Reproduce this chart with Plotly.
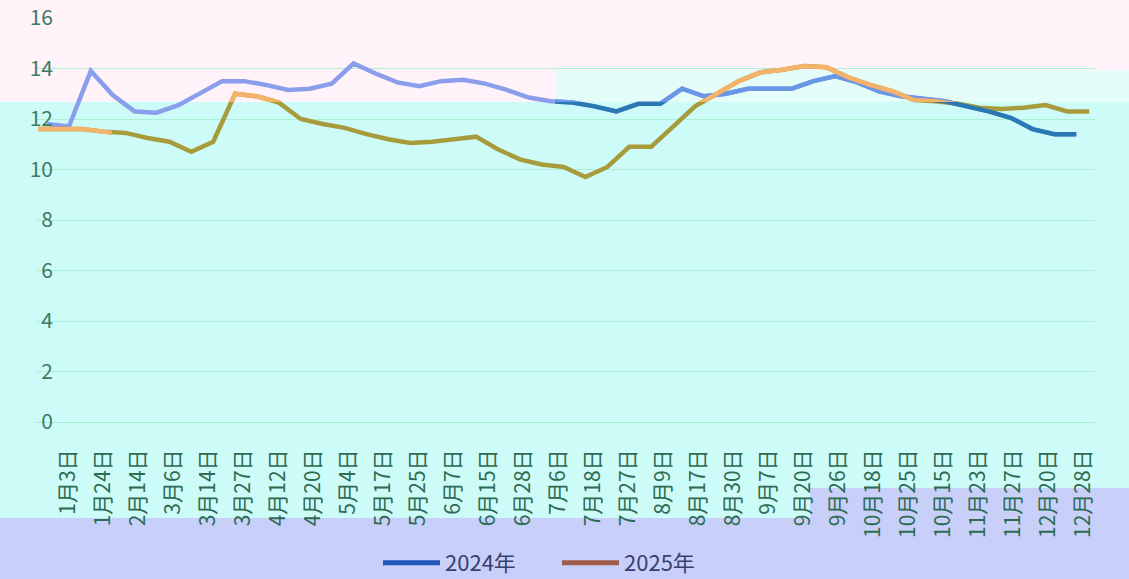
import plotly.graph_objects as go

# ---------------- data ----------------
date_labels = ["1月3日", "1月24日", "2月14日", "3月6日", "3月14日", "3月27日", "4月12日",
               "4月20日", "5月4日", "5月17日", "5月25日", "6月7日", "6月15日", "6月28日",
               "7月6日", "7月18日", "7月27日", "8月9日", "8月17日", "8月30日", "9月7日",
               "9月20日", "9月26日", "10月18日", "10月25日", "10月15日", "11月23日",
               "11月27日", "12月20日", "12月28日", "12月31日"]

values_2024 = [11.8, 11.7, 13.9, 12.95, 12.3, 12.25, 12.55, 13.0, 13.5, 13.5,
               13.35, 13.15, 13.2, 13.4, 14.2, 13.8, 13.45, 13.3, 13.5, 13.55,
               13.4, 13.15, 12.85, 12.7, 12.65, 12.5, 12.3, 12.6, 12.6, 13.2,
               12.9, 13.0, 13.2, 13.2, 13.2, 13.5, 13.7, 13.45, 13.1, 12.9,
               12.8, 12.7, 12.5, 12.3, 12.05, 11.6, 11.4, 11.4]

values_2025 = [11.6, 11.6, 11.6, 11.5, 11.45, 11.25, 11.1, 10.7, 11.1, 13.0,
               12.9, 12.65, 12.0, 11.8, 11.65, 11.4, 11.2, 11.05, 11.1, 11.2,
               11.3, 10.8, 10.4, 10.2, 10.1, 9.7, 10.1, 10.9, 10.9, 11.7,
               12.5, 13.0, 13.5, 13.85, 13.95, 14.1, 14.05, 13.65, 13.35, 13.1,
               12.75, 12.7, 12.6, 12.45, 12.4, 12.45, 12.55, 12.3, 12.3]

series_names = ["2024年", "2025年"]
legend_colors = ["#2058b8", "#a05c4a"]

# ---------------- layout geometry ----------------
W, H = 1129, 579
L, R, T, B = 36, 1095, 18, 422
pw, ph = R - L, B - T
Y_MAX = 16.0
ypx = ph / Y_MAX          # pixels per unit
d_sp = 21.9               # pixels per data step
off = {"2024": 47, "2025": 38}   # pixel of the first point of each series
LW = 4.5


def px_x(p):
    return (p - L) / pw


def px_y(p):
    return (B - p) / ph


fig = go.Figure()
layout_axes = {}
axis_n = [1]


def new_ax():
    axis_n[0] += 1
    return axis_n[0]


# base lines
x24 = new_ax()   # 2
x25 = new_ax()   # 3
layout_axes["xaxis%d" % x24] = dict(range=[(L - off["2024"]) / d_sp, (R - off["2024"]) / d_sp],
                                    overlaying="x", anchor="y", visible=False)
layout_axes["xaxis%d" % x25] = dict(range=[(L - off["2025"]) / d_sp, (R - off["2025"]) / d_sp],
                                    overlaying="x", anchor="y", visible=False)
fig.add_trace(go.Scatter(x=list(range(len(values_2024))), y=values_2024, mode="lines",
                         line=dict(color="#8a9eec", width=LW), name=series_names[0],
                         xaxis="x%d" % x24, yaxis="y", showlegend=False))
fig.add_trace(go.Scatter(x=list(range(len(values_2025))), y=values_2025, mode="lines",
                         line=dict(color="#a89b3c", width=LW), name=series_names[1],
                         xaxis="x%d" % x25, yaxis="y", showlegend=False))

# colour windows (the same series re-drawn, clipped to a sub-area)
y_n = [1]


def window(x0p, x1p, y0p, y1p, key, values, color, name):
    y_n[0] += 1
    yi = y_n[0]
    xi = new_ax()
    layout_axes["yaxis%d" % yi] = dict(
        domain=[px_y(y1p), px_y(y0p)], range=[(B - y1p) / ypx, (B - y0p) / ypx],
        anchor="x%d" % xi, visible=False)
    layout_axes["xaxis%d" % xi] = dict(
        domain=[px_x(x0p), px_x(x1p)],
        range=[(x0p - off[key]) / d_sp, (x1p - off[key]) / d_sp],
        anchor="y%d" % yi, visible=False)
    fig.add_trace(go.Scatter(x=list(range(len(values))), y=values, mode="lines",
                             line=dict(color=color, width=LW), name=name,
                             xaxis="x%d" % xi, yaxis="y%d" % yi, showlegend=False,
                             hoverinfo="skip"))


window(555, R, T, 102, "2024", values_2024, "#6a96e6", series_names[0])
window(555, R, 102, B, "2024", values_2024, "#2a78b2", series_names[0])
window(L, R, T, 102, "2025", values_2025, "#f5b26a", series_names[1])
window(L, 112, 102, 140, "2025", values_2025, "#f5b26a", series_names[1])

for nm, col in zip(series_names, legend_colors):
    fig.add_trace(go.Scatter(x=[None], y=[None], mode="lines", name=nm,
                             line=dict(color=col, width=5), xaxis="x", yaxis="y"))

# background bands (paper coords)
shapes = []


def band(x0, x1, y0, y1, color):
    shapes.append(dict(type="rect", xref="paper", yref="paper",
                       x0=px_x(x0), x1=px_x(x1), y0=px_y(y1), y1=px_y(y0),
                       fillcolor=color, line=dict(width=0), layer="below"))


band(-5, 555, -5, 102, "#fff3f9")
band(555, W + 5, -5, 70, "#fff3f9")
band(555, W + 5, 70, 102, "#e4fdf8")
band(-5, W + 5, 518, H + 5, "#c8d0fa")
band(810, W + 5, 488, 518, "#c8d0fa")

lab_sp = 35.0
lab0 = 68.0

fig.update_layout(
    width=W, height=H, autosize=False,
    margin=dict(l=L, r=W - R, t=T, b=H - B, pad=0, autoexpand=False),
    paper_bgcolor="#cdfcf8", plot_bgcolor="rgba(0,0,0,0)",
    font=dict(family="Noto Sans CJK SC, sans-serif"),
    shapes=shapes,
    xaxis=dict(
        range=[(L - lab0) / lab_sp, (R - lab0) / lab_sp], automargin=False,
        tickmode="array", tickvals=list(range(len(date_labels))), ticktext=date_labels,
        tickangle=-90, ticks="outside", ticklen=18, tickcolor="rgba(0,0,0,0)",
        tickfont=dict(size=21, color="#2d6b52"),
        showgrid=False, zeroline=False, showline=False,
    ),
    yaxis=dict(
        range=[0, Y_MAX], dtick=2, tick0=0, anchor="free", position=px_x(53),
        automargin=False,
        tickfont=dict(size=21, color="#3d7a62"), ticks="",
        showgrid=True, gridcolor="#aef0d6", gridwidth=1,
        zeroline=True, zerolinecolor="#a8ecd0", zerolinewidth=1, showline=False,
    ),
    legend=dict(orientation="h", x=px_x(378), xanchor="left",
                y=px_y(563), yanchor="middle", bgcolor="rgba(0,0,0,0)",
                font=dict(size=22, color="#39406e"), itemwidth=57,
                entrywidth=107),
    hovermode=False,
)
fig.update_layout(**layout_axes)

post = ("document.documentElement.style.margin='0';"
        "document.body.style.margin='0';document.body.style.overflow='hidden';"
        "var d=document.getElementById('{plot_id}');"
        "d.style.position='fixed';d.style.top='0px';d.style.left='0px';")

fig.write_html("out.html", default_width="1129px", default_height="579px",
               config={"displayModeBar": False}, post_script=post)
